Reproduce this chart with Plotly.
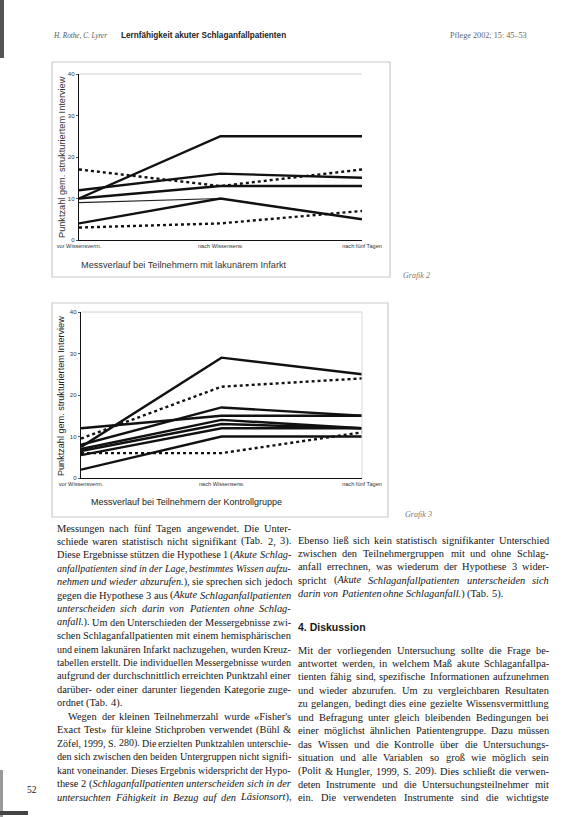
import re
import plotly.graph_objects as go

W, H = 570, 817

# ---------------- data ----------------
stages = ["vor Wissensverm.", "nach Wissenserw.", "nach fünf Tagen"]
y_ticks = [0, 10, 20, 30, 40]

# Grafik 2: Teilnehmer mit lakunärem Infarkt
lak_a = [10, 25, 25]
lak_b = [17, 13, 17]
lak_c = [12, 16, 15]
lak_d = [10, 13, 13]
lak_e = [9, 10, 5]
lak_f = [4, 10, 5]
lak_g = [3, 4, 7]

# Grafik 3: Kontrollgruppe
kon_a = [7.5, 29, 25]
kon_b = [9.5, 22, 24]
kon_c = [12, 15, 15]
kon_d = [8, 17, 15]
kon_e = [7, 14, 12]
kon_f = [6.5, 13, 12]
kon_g = [5.5, 12, 12]
kon_h = [2, 10, 10]
kon_i = [6, 6, 11]

lak_series = [lak_a, lak_b, lak_c, lak_d, lak_e, lak_f, lak_g]
lak_styles = ["solid", "dot", "solid", "solid", "thin", "solid", "dot"]
kon_series = [kon_a, kon_b, kon_c, kon_d, kon_e, kon_f, kon_g, kon_h, kon_i]
kon_styles = ["solid", "dot", "solid", "solid", "solid", "solid", "solid", "solid", "dot"]

header_left_it = "H. Rothe, C. Lyrer"
header_left_b = "Lernfähigkeit akuter Schlaganfallpatienten"
header_right = "Pflege 2002; 15: 45–53"
ytitle = "Punktzahl gem. strukturiertem Interview"
xtitle1 = "Messverlauf bei Teilnehmern mit lakunärem Infarkt"
xtitle2 = "Messverlauf bei Teilnehmern der Kontrollgruppe"

left_par1 = [
    "Messungen nach fünf Tagen angewendet. Die Unter-",
    "schiede waren statistisch nicht signifikant (Tab. 2, 3).",
    "Diese Ergebnisse stützen die Hypothese 1 (<i>Akute Schlag-</i>",
    "<i>anfallpatienten sind in der Lage, bestimmtes Wissen aufzu-</i>",
    "<i>nehmen und wieder abzurufen.</i>), sie sprechen sich jedoch",
    "gegen die Hypothese 3 aus (<i>Akute Schlaganfallpatienten</i>",
    "<i>unterscheiden sich darin von Patienten ohne Schlag-</i>",
    "<i>anfall.</i>). Um den Unterschieden der Messergebnisse zwi-",
    "schen Schlaganfallpatienten mit einem hemisphärischen",
    "und einem lakunären Infarkt nachzugehen, wurden Kreuz-",
    "tabellen erstellt. Die individuellen Messergebnisse wurden",
    "aufgrund der durchschnittlich erreichten Punktzahl einer",
    "darüber- oder einer darunter liegenden Kategorie zuge-",
    "ordnet (Tab. 4).",
]
left_par2 = [
    "Wegen der kleinen Teilnehmerzahl wurde «Fisher's",
    "Exact Test» für kleine Stichproben verwendet (Bühl &",
    "Zöfel, 1999, S. 280). Die erzielten Punktzahlen unterschie-",
    "den sich zwischen den beiden Untergruppen nicht signifi-",
    "kant voneinander. Dieses Ergebnis widerspricht der Hypo-",
    "these 2 (<i>Schlaganfallpatienten unterscheiden sich in der</i>",
    "<i>untersuchten Fähigkeit in Bezug auf den Läsionsort</i>),",
]
right_par1 = [
    "Ebenso ließ sich kein statistisch signifikanter Unterschied",
    "zwischen den Teilnehmergruppen mit und ohne Schlag-",
    "anfall errechnen, was wiederum der Hypothese 3 wider-",
    "spricht (<i>Akute Schlaganfallpatienten unterscheiden sich</i>",
    "<i>darin von Patienten ohne Schlaganfall.</i>) (Tab. 5).",
]
heading = "4. Diskussion"
right_par2 = [
    "Mit der vorliegenden Untersuchung sollte die Frage be-",
    "antwortet werden, in welchem Maß akute Schlaganfallpa-",
    "tienten fähig sind, spezifische Informationen aufzunehmen",
    "und wieder abzurufen. Um zu vergleichbaren Resultaten",
    "zu gelangen, bedingt dies eine gezielte Wissensvermittlung",
    "und Befragung unter gleich bleibenden Bedingungen bei",
    "einer möglichst ähnlichen Patientengruppe. Dazu müssen",
    "das Wissen und die Kontrolle über die Untersuchungs-",
    "situation und alle Variablen so groß wie möglich sein",
    "(Polit & Hungler, 1999, S. 209). Dies schließt die verwen-",
    "deten Instrumente und die Untersuchungsteilnehmer mit",
    "ein. Die verwendeten Instrumente sind die wichtigste",
]
page_no = "52"

# ---------------- helpers ----------------
def px(x):
    return x / W


def py(y):
    return 1 - y / H


TW = {' ': 250, '&': 778, "'": 180, '(': 333, ')': 333, ',': 250, '-': 333, '.': 250,
      ':': 278, ';': 278, '«': 500, '»': 500, '–': 500,
      'A': 722, 'B': 667, 'C': 667, 'D': 722, 'E': 611, 'F': 556, 'G': 722, 'H': 722,
      'I': 333, 'J': 389, 'K': 722, 'L': 611, 'M': 889, 'N': 722, 'O': 722, 'P': 556,
      'Q': 722, 'R': 667, 'S': 556, 'T': 611, 'U': 722, 'V': 722, 'W': 944, 'X': 722,
      'Y': 722, 'Z': 611, 'Ä': 722, 'Ö': 722, 'Ü': 722,
      'a': 444, 'b': 500, 'c': 444, 'd': 500, 'e': 444, 'f': 333, 'g': 500, 'h': 500,
      'i': 278, 'j': 278, 'k': 500, 'l': 278, 'm': 778, 'n': 500, 'o': 500, 'p': 500,
      'q': 500, 'r': 333, 's': 389, 't': 278, 'u': 500, 'v': 500, 'w': 722, 'x': 500,
      'y': 500, 'z': 444, 'ä': 444, 'ö': 500, 'ü': 500, 'ß': 500}
TWI = dict(TW)
TWI.update({'a': 500, 'f': 278, 'k': 444, 'm': 722, 'r': 389, 'v': 444, 'w': 667,
            'x': 444, 'y': 444, 'z': 389, 'ä': 500, 'A': 611, 'B': 611, 'F': 611,
            'K': 667, 'L': 556, 'M': 833, 'N': 667, 'P': 611, 'S': 500, 'T': 556,
            'W': 833})


def word_width(word, italic, size):
    tab = TWI if italic else TW
    return sum(tab.get(ch, 500) for ch in word) * size / 1000.0


def tokenize(line):
    italic = False
    tokens = []
    cur_parts = []
    for p in re.split(r'(<i>|</i>)', line):
        if p == "<i>":
            italic = True
            continue
        if p == "</i>":
            italic = False
            continue
        for ch in p:
            if ch == " ":
                if cur_parts:
                    tokens.append(cur_parts)
                cur_parts = []
            elif cur_parts and cur_parts[-1][1] == italic:
                cur_parts[-1] = (cur_parts[-1][0] + ch, italic)
            else:
                cur_parts.append((ch, italic))
    if cur_parts:
        tokens.append(cur_parts)
    return tokens


ann = []
serif = "Liberation Serif, Times New Roman, serif"
sans = "Liberation Sans, Arial, sans-serif"
tc = "#161616"


def text(x, y, s, size, family=serif, xanchor="left", color=tc, angle=0):
    ann.append(dict(x=px(x), y=py(y), xref="paper", yref="paper", text=s,
                    showarrow=False, xanchor=xanchor, yanchor="middle",
                    textangle=angle, borderpad=0, align="left",
                    font=dict(family=family, size=size, color=color)))


BASE = 10.4


def set_paragraph(lines, x0, x1, y0, dy, indent=0, justify_last=False):
    for i, line in enumerate(lines):
        tokens = tokenize(line)
        xs = x0 + (indent if i == 0 else 0)
        colw = x1 - xs
        widths = [sum(word_width(t, it, BASE) for t, it in tok) for tok in tokens]
        space = 0.22 * BASE
        natural = sum(widths) + space * (len(tokens) - 1)
        size = BASE
        if natural > colw:
            size = BASE * colw / (natural + 1)
            widths = [w * size / BASE for w in widths]
            space = 0.22 * size
        last = (i == len(lines) - 1) and not justify_last
        if not last and len(tokens) > 1:
            gap = (colw - sum(widths)) / (len(tokens) - 1)
        else:
            gap = 0.25 * size
        x = xs
        y = y0 + dy * i
        for tok, w in zip(tokens, widths):
            s = "".join(("<i>%s</i>" % t) if it else t for t, it in tok)
            text(x, y, s, size, serif)
            x += w + gap


# ---------------- figure ----------------
fig = go.Figure()
x_idx = list(range(len(stages)))


def add_series(series, styles, xa, ya):
    for s, st in zip(series, styles):
        if st == "dot":
            line = dict(color="#111", width=2.4, dash="dot")
        elif st == "thin":
            line = dict(color="#222", width=1.2)
        else:
            line = dict(color="#111", width=2.4)
        fig.add_trace(go.Scatter(x=x_idx, y=s, mode="lines", line=line,
                                 xaxis=xa, yaxis=ya, showlegend=False,
                                 hoverinfo="skip"))


add_series(lak_series, lak_styles, "x", "y")
add_series(kon_series, kon_styles, "x2", "y2")

xfont = dict(family=sans, size=5.6, color="#333")
yfont = dict(family=sans, size=6, color="#333")
common_x = dict(range=[0, 2], tickvals=x_idx, ticktext=stages, showgrid=False,
                zeroline=False, showline=True, linecolor="#111", linewidth=1.3,
                ticks="", tickfont=xfont, fixedrange=True, automargin=False)
common_y = dict(range=[0, 40], tickvals=y_ticks, showgrid=False, zeroline=False,
                showline=True, linecolor="#111", linewidth=1.3, ticks="outside",
                ticklen=2, tickcolor="#555", tickfont=yfont, fixedrange=True,
                automargin=False)

fig.update_layout(
    template="none",
    width=W, height=H, margin=dict(l=0, r=0, t=0, b=0, pad=0, autoexpand=False),
    paper_bgcolor="white", plot_bgcolor="white", showlegend=False,
    xaxis=dict(domain=[px(79), px(362)], anchor="y", **common_x),
    yaxis=dict(domain=[py(240), py(74)], anchor="x", **common_y),
    xaxis2=dict(domain=[px(81), px(362)], anchor="y2", **common_x),
    yaxis2=dict(domain=[py(478), py(312)], anchor="x2", **common_y),
)

shapes = []
grey = "#c8c8c8"
for (x0, y0, x1, y1) in [(52, 62, 390, 277), (52, 303, 388, 517)]:
    shapes.append(dict(type="rect", xref="paper", yref="paper",
                       x0=px(x0), x1=px(x1), y0=py(y1), y1=py(y0),
                       line=dict(color=grey, width=1.2)))
for (x0, y0, x1) in [(79, 74, 362), (81, 312, 362)]:
    shapes.append(dict(type="line", xref="paper", yref="paper",
                       x0=px(x0), x1=px(x1), y0=py(y0), y1=py(y0),
                       line=dict(color="#d0d0d0", width=1)))
shapes.append(dict(type="line", xref="paper", yref="paper",
                   x0=px(362), x1=px(362), y0=py(478), y1=py(312),
                   line=dict(color="#d8d8d8", width=1)))
shapes.append(dict(type="rect", xref="paper", yref="paper", x0=0, x1=px(4),
                   y0=py(58), y1=1, fillcolor="#555", line=dict(width=0)))
shapes.append(dict(type="rect", xref="paper", yref="paper", x0=0, x1=px(3),
                   y0=0, y1=py(770), fillcolor="#999", line=dict(width=0)))
shapes.append(dict(type="rect", xref="paper", yref="paper", x0=0, x1=px(28),
                   y0=py(815), y1=py(811), fillcolor="#444", line=dict(width=0)))
fig.update_layout(shapes=shapes)

# header
text(52, 36, "<i>" + header_left_it + "</i>", 7.2, serif, color="#555")
text(120, 36, "<b>" + header_left_b + "</b>", 8.2, sans, color="#222")
text(528, 36, header_right, 8.2, serif, xanchor="right", color="#666")

# chart titles
text(62, 157, ytitle, 9.2, sans, xanchor="center", color="#333", angle=-90)
text(184, 265, xtitle1, 9.2, sans, xanchor="center", color="#333")
text(61, 396, ytitle, 9.1, sans, xanchor="center", color="#222", angle=-90)
text(186, 502, xtitle2, 9.0, sans, xanchor="center", color="#222")
text(402, 275, "<i>Grafik 2</i>", 8, serif, color="#777")
text(404, 514, "<i>Grafik 3</i>", 8, serif, color="#777")

# body text (justified columns)
LS = 13.45
set_paragraph(left_par1, 56, 290, 528, LS)
set_paragraph(left_par2, 56, 290, 528 + LS * len(left_par1), LS, indent=11,
              justify_last=True)
set_paragraph(right_par1, 297, 548, 540, LS)
text(297, 627, "<b>" + heading + "</b>", 10.5, sans)
set_paragraph(right_par2, 297, 548, 650, LS, justify_last=True)

text(26, 790, page_no, 9.5, serif)

fig.update_layout(annotations=ann)
fig.write_html("out.html", config={"displayModeBar": False, "staticPlot": True},
               post_script="document.body.style.margin='0px';"
                           "document.body.style.overflow='hidden';")
